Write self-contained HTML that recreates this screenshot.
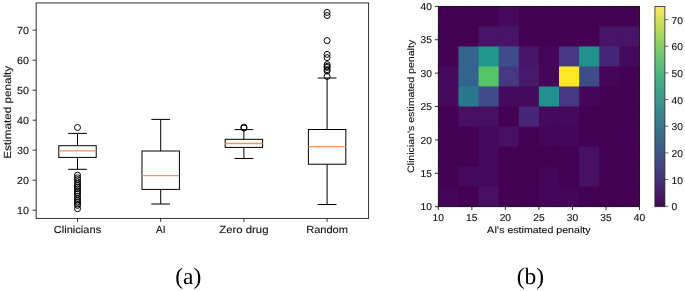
<!DOCTYPE html>
<html><head><meta charset="utf-8"><style>
html,body{margin:0;padding:0;background:#fff;width:685px;height:291px;overflow:hidden;}
svg{display:block;will-change:transform;text-rendering:geometricPrecision;}
</style></head><body>
<svg width="685" height="291" viewBox="0 0 685 291"><rect x="36.15" y="2.95" width="332.5" height="215.4" fill="none" stroke="#000" stroke-width="0.8"/>
<line x1="32.65" y1="210.2" x2="36.15" y2="210.2" stroke="#000" stroke-width="0.8"/>
<text x="29.0" y="213.64999999999998" font-size="10.3" text-anchor="end" font-family="Liberation Sans, sans-serif" fill="#111" stroke="#111" stroke-width="0.12" textLength="11.9" lengthAdjust="spacingAndGlyphs">10</text>
<line x1="32.65" y1="180.2" x2="36.15" y2="180.2" stroke="#000" stroke-width="0.8"/>
<text x="29.0" y="183.64999999999998" font-size="10.3" text-anchor="end" font-family="Liberation Sans, sans-serif" fill="#111" stroke="#111" stroke-width="0.12" textLength="11.9" lengthAdjust="spacingAndGlyphs">20</text>
<line x1="32.65" y1="150.2" x2="36.15" y2="150.2" stroke="#000" stroke-width="0.8"/>
<text x="29.0" y="153.64999999999998" font-size="10.3" text-anchor="end" font-family="Liberation Sans, sans-serif" fill="#111" stroke="#111" stroke-width="0.12" textLength="11.9" lengthAdjust="spacingAndGlyphs">30</text>
<line x1="32.65" y1="120.19999999999999" x2="36.15" y2="120.19999999999999" stroke="#000" stroke-width="0.8"/>
<text x="29.0" y="123.64999999999999" font-size="10.3" text-anchor="end" font-family="Liberation Sans, sans-serif" fill="#111" stroke="#111" stroke-width="0.12" textLength="11.9" lengthAdjust="spacingAndGlyphs">40</text>
<line x1="32.65" y1="90.19999999999999" x2="36.15" y2="90.19999999999999" stroke="#000" stroke-width="0.8"/>
<text x="29.0" y="93.64999999999999" font-size="10.3" text-anchor="end" font-family="Liberation Sans, sans-serif" fill="#111" stroke="#111" stroke-width="0.12" textLength="11.9" lengthAdjust="spacingAndGlyphs">50</text>
<line x1="32.65" y1="60.19999999999999" x2="36.15" y2="60.19999999999999" stroke="#000" stroke-width="0.8"/>
<text x="29.0" y="63.64999999999999" font-size="10.3" text-anchor="end" font-family="Liberation Sans, sans-serif" fill="#111" stroke="#111" stroke-width="0.12" textLength="11.9" lengthAdjust="spacingAndGlyphs">60</text>
<line x1="32.65" y1="30.19999999999999" x2="36.15" y2="30.19999999999999" stroke="#000" stroke-width="0.8"/>
<text x="29.0" y="33.64999999999999" font-size="10.3" text-anchor="end" font-family="Liberation Sans, sans-serif" fill="#111" stroke="#111" stroke-width="0.12" textLength="11.9" lengthAdjust="spacingAndGlyphs">70</text>
<line x1="77.5" y1="218.35" x2="77.5" y2="221.85" stroke="#000" stroke-width="0.8"/>
<text x="77.5" y="233.1" font-size="10.3" text-anchor="middle" font-family="Liberation Sans, sans-serif" fill="#111" stroke="#111" stroke-width="0.12" textLength="47.4" lengthAdjust="spacingAndGlyphs">Clinicians</text>
<line x1="160.7" y1="218.35" x2="160.7" y2="221.85" stroke="#000" stroke-width="0.8"/>
<text x="160.7" y="233.1" font-size="10.3" text-anchor="middle" font-family="Liberation Sans, sans-serif" fill="#111" stroke="#111" stroke-width="0.12" textLength="9.5" lengthAdjust="spacingAndGlyphs">AI</text>
<line x1="243.9" y1="218.35" x2="243.9" y2="221.85" stroke="#000" stroke-width="0.8"/>
<text x="243.9" y="233.1" font-size="10.3" text-anchor="middle" font-family="Liberation Sans, sans-serif" fill="#111" stroke="#111" stroke-width="0.12" textLength="49.2" lengthAdjust="spacingAndGlyphs">Zero drug</text>
<line x1="327.1" y1="218.35" x2="327.1" y2="221.85" stroke="#000" stroke-width="0.8"/>
<text x="327.1" y="233.1" font-size="10.3" text-anchor="middle" font-family="Liberation Sans, sans-serif" fill="#111" stroke="#111" stroke-width="0.12" textLength="41.8" lengthAdjust="spacingAndGlyphs">Random</text>
<text transform="translate(10.5,112.35) rotate(-90)" x="0" y="0" font-size="10.3" text-anchor="middle" font-family="Liberation Sans, sans-serif" fill="#111" stroke="#111" stroke-width="0.12" textLength="93" lengthAdjust="spacingAndGlyphs">Estimated penalty</text>
<line x1="77.5" y1="133.4" x2="77.5" y2="145.7" stroke="#000" stroke-width="1"/>
<line x1="77.5" y1="157.4" x2="77.5" y2="169.3" stroke="#000" stroke-width="1"/>
<line x1="68.14" y1="133.4" x2="86.86" y2="133.4" stroke="#000" stroke-width="1"/>
<line x1="68.14" y1="169.3" x2="86.86" y2="169.3" stroke="#000" stroke-width="1"/>
<rect x="58.78" y="145.7" width="37.440000000000005" height="11.700000000000017" fill="none" stroke="#000" stroke-width="1"/>
<line x1="58.78" y1="150.9" x2="96.22" y2="150.9" stroke="#f0964f" stroke-width="1.3"/>
<line x1="160.7" y1="119.4" x2="160.7" y2="151.0" stroke="#000" stroke-width="1"/>
<line x1="160.7" y1="189.4" x2="160.7" y2="204.0" stroke="#000" stroke-width="1"/>
<line x1="151.33999999999997" y1="119.4" x2="170.06" y2="119.4" stroke="#000" stroke-width="1"/>
<line x1="151.33999999999997" y1="204.0" x2="170.06" y2="204.0" stroke="#000" stroke-width="1"/>
<rect x="141.98" y="151.0" width="37.440000000000005" height="38.400000000000006" fill="none" stroke="#000" stroke-width="1"/>
<line x1="141.98" y1="175.6" x2="179.42" y2="175.6" stroke="#f0964f" stroke-width="1.3"/>
<line x1="243.9" y1="129.6" x2="243.9" y2="139.3" stroke="#000" stroke-width="1"/>
<line x1="243.9" y1="147.4" x2="243.9" y2="158.5" stroke="#000" stroke-width="1"/>
<line x1="234.54" y1="129.6" x2="253.26000000000002" y2="129.6" stroke="#000" stroke-width="1"/>
<line x1="234.54" y1="158.5" x2="253.26000000000002" y2="158.5" stroke="#000" stroke-width="1"/>
<rect x="225.18" y="139.3" width="37.440000000000005" height="8.099999999999994" fill="none" stroke="#000" stroke-width="1"/>
<line x1="225.18" y1="143.5" x2="262.62" y2="143.5" stroke="#f0964f" stroke-width="1.3"/>
<line x1="327.1" y1="78.0" x2="327.1" y2="129.5" stroke="#000" stroke-width="1"/>
<line x1="327.1" y1="164.2" x2="327.1" y2="204.5" stroke="#000" stroke-width="1"/>
<line x1="317.74" y1="78.0" x2="336.46000000000004" y2="78.0" stroke="#000" stroke-width="1"/>
<line x1="317.74" y1="204.5" x2="336.46000000000004" y2="204.5" stroke="#000" stroke-width="1"/>
<rect x="308.38" y="129.5" width="37.440000000000005" height="34.69999999999999" fill="none" stroke="#000" stroke-width="1"/>
<line x1="308.38" y1="146.6" x2="345.82000000000005" y2="146.6" stroke="#f0964f" stroke-width="1.3"/>
<circle cx="77.5" cy="127.5" r="3" fill="none" stroke="#000" stroke-width="1"/>
<circle cx="77.5" cy="175.2" r="3" fill="none" stroke="#000" stroke-width="1"/>
<circle cx="77.5" cy="177.8" r="3" fill="none" stroke="#000" stroke-width="1"/>
<circle cx="77.5" cy="179.6" r="3" fill="none" stroke="#000" stroke-width="1"/>
<circle cx="77.5" cy="181.8" r="3" fill="none" stroke="#000" stroke-width="1"/>
<circle cx="77.5" cy="183.8" r="3" fill="none" stroke="#000" stroke-width="1"/>
<circle cx="77.5" cy="185.6" r="3" fill="none" stroke="#000" stroke-width="1"/>
<circle cx="77.5" cy="187.2" r="3" fill="none" stroke="#000" stroke-width="1"/>
<circle cx="77.5" cy="188.8" r="3" fill="none" stroke="#000" stroke-width="1"/>
<circle cx="77.5" cy="190.8" r="3" fill="none" stroke="#000" stroke-width="1"/>
<circle cx="77.5" cy="192.6" r="3" fill="none" stroke="#000" stroke-width="1"/>
<circle cx="77.5" cy="194.2" r="3" fill="none" stroke="#000" stroke-width="1"/>
<circle cx="77.5" cy="196.4" r="3" fill="none" stroke="#000" stroke-width="1"/>
<circle cx="77.5" cy="198.4" r="3" fill="none" stroke="#000" stroke-width="1"/>
<circle cx="77.5" cy="200.2" r="3" fill="none" stroke="#000" stroke-width="1"/>
<circle cx="77.5" cy="202.0" r="3" fill="none" stroke="#000" stroke-width="1"/>
<circle cx="77.5" cy="204.0" r="3" fill="none" stroke="#000" stroke-width="1"/>
<circle cx="77.5" cy="205.4" r="3" fill="none" stroke="#000" stroke-width="1"/>
<circle cx="77.5" cy="208.7" r="3" fill="none" stroke="#000" stroke-width="1"/>
<circle cx="243.9" cy="127.2" r="3" fill="none" stroke="#000" stroke-width="1"/>
<circle cx="243.9" cy="128.0" r="3" fill="none" stroke="#000" stroke-width="1"/>
<circle cx="327.1" cy="12.4" r="3" fill="none" stroke="#000" stroke-width="1"/>
<circle cx="327.1" cy="15.5" r="3" fill="none" stroke="#000" stroke-width="1"/>
<circle cx="327.1" cy="40.6" r="3" fill="none" stroke="#000" stroke-width="1"/>
<circle cx="327.1" cy="54.4" r="3" fill="none" stroke="#000" stroke-width="1"/>
<circle cx="327.1" cy="57.6" r="3" fill="none" stroke="#000" stroke-width="1"/>
<circle cx="327.1" cy="64.6" r="3" fill="none" stroke="#000" stroke-width="1"/>
<circle cx="327.1" cy="66.4" r="3" fill="none" stroke="#000" stroke-width="1"/>
<circle cx="327.1" cy="67.4" r="3" fill="none" stroke="#000" stroke-width="1"/>
<circle cx="327.1" cy="69.6" r="3" fill="none" stroke="#000" stroke-width="1"/>
<circle cx="327.1" cy="71.0" r="3" fill="none" stroke="#000" stroke-width="1"/>
<circle cx="327.1" cy="76.4" r="3" fill="none" stroke="#000" stroke-width="1"/>
<rect x="438.30" y="6.35" width="21.12" height="21.04" fill="#440154"/>
<rect x="458.42" y="6.35" width="21.12" height="21.04" fill="#440154"/>
<rect x="478.54" y="6.35" width="21.12" height="21.04" fill="#440154"/>
<rect x="498.66" y="6.35" width="21.12" height="21.04" fill="#460a5d"/>
<rect x="518.78" y="6.35" width="21.12" height="21.04" fill="#440154"/>
<rect x="538.90" y="6.35" width="21.12" height="21.04" fill="#440154"/>
<rect x="559.02" y="6.35" width="21.12" height="21.04" fill="#440154"/>
<rect x="579.14" y="6.35" width="21.12" height="21.04" fill="#440154"/>
<rect x="599.26" y="6.35" width="21.12" height="21.04" fill="#440154"/>
<rect x="619.38" y="6.35" width="20.12" height="21.04" fill="#440154"/>
<rect x="438.30" y="26.38" width="21.12" height="21.04" fill="#440154"/>
<rect x="458.42" y="26.38" width="21.12" height="21.04" fill="#440154"/>
<rect x="478.54" y="26.38" width="21.12" height="21.04" fill="#481467"/>
<rect x="498.66" y="26.38" width="21.12" height="21.04" fill="#481467"/>
<rect x="518.78" y="26.38" width="21.12" height="21.04" fill="#440154"/>
<rect x="538.90" y="26.38" width="21.12" height="21.04" fill="#440154"/>
<rect x="559.02" y="26.38" width="21.12" height="21.04" fill="#440154"/>
<rect x="579.14" y="26.38" width="21.12" height="21.04" fill="#440154"/>
<rect x="599.26" y="26.38" width="21.12" height="21.04" fill="#481467"/>
<rect x="619.38" y="26.38" width="20.12" height="21.04" fill="#481467"/>
<rect x="438.30" y="46.42" width="21.12" height="21.04" fill="#440154"/>
<rect x="458.42" y="46.42" width="21.12" height="21.04" fill="#32648e"/>
<rect x="478.54" y="46.42" width="21.12" height="21.04" fill="#1f988b"/>
<rect x="498.66" y="46.42" width="21.12" height="21.04" fill="#3e4c8a"/>
<rect x="518.78" y="46.42" width="21.12" height="21.04" fill="#481467"/>
<rect x="538.90" y="46.42" width="21.12" height="21.04" fill="#450559"/>
<rect x="559.02" y="46.42" width="21.12" height="21.04" fill="#453781"/>
<rect x="579.14" y="46.42" width="21.12" height="21.04" fill="#20928c"/>
<rect x="599.26" y="46.42" width="21.12" height="21.04" fill="#482677"/>
<rect x="619.38" y="46.42" width="20.12" height="21.04" fill="#460a5d"/>
<rect x="438.30" y="66.45" width="21.12" height="21.04" fill="#460a5d"/>
<rect x="458.42" y="66.45" width="21.12" height="21.04" fill="#32648e"/>
<rect x="478.54" y="66.45" width="21.12" height="21.04" fill="#54c568"/>
<rect x="498.66" y="66.45" width="21.12" height="21.04" fill="#453781"/>
<rect x="518.78" y="66.45" width="21.12" height="21.04" fill="#481a6c"/>
<rect x="538.90" y="66.45" width="21.12" height="21.04" fill="#450559"/>
<rect x="559.02" y="66.45" width="21.12" height="21.04" fill="#fde725"/>
<rect x="579.14" y="66.45" width="21.12" height="21.04" fill="#3e4c8a"/>
<rect x="599.26" y="66.45" width="21.12" height="21.04" fill="#450559"/>
<rect x="619.38" y="66.45" width="20.12" height="21.04" fill="#440154"/>
<rect x="438.30" y="86.49" width="21.12" height="21.04" fill="#460a5d"/>
<rect x="458.42" y="86.49" width="21.12" height="21.04" fill="#2a788e"/>
<rect x="478.54" y="86.49" width="21.12" height="21.04" fill="#3e4c8a"/>
<rect x="498.66" y="86.49" width="21.12" height="21.04" fill="#460a5d"/>
<rect x="518.78" y="86.49" width="21.12" height="21.04" fill="#460a5d"/>
<rect x="538.90" y="86.49" width="21.12" height="21.04" fill="#218f8d"/>
<rect x="559.02" y="86.49" width="21.12" height="21.04" fill="#453781"/>
<rect x="579.14" y="86.49" width="21.12" height="21.04" fill="#450559"/>
<rect x="599.26" y="86.49" width="21.12" height="21.04" fill="#440154"/>
<rect x="619.38" y="86.49" width="20.12" height="21.04" fill="#440154"/>
<rect x="438.30" y="106.52" width="21.12" height="21.04" fill="#440154"/>
<rect x="458.42" y="106.52" width="21.12" height="21.04" fill="#471063"/>
<rect x="478.54" y="106.52" width="21.12" height="21.04" fill="#471063"/>
<rect x="498.66" y="106.52" width="21.12" height="21.04" fill="#440154"/>
<rect x="518.78" y="106.52" width="21.12" height="21.04" fill="#482677"/>
<rect x="538.90" y="106.52" width="21.12" height="21.04" fill="#460a5d"/>
<rect x="559.02" y="106.52" width="21.12" height="21.04" fill="#460a5d"/>
<rect x="579.14" y="106.52" width="21.12" height="21.04" fill="#440154"/>
<rect x="599.26" y="106.52" width="21.12" height="21.04" fill="#440154"/>
<rect x="619.38" y="106.52" width="20.12" height="21.04" fill="#440154"/>
<rect x="438.30" y="126.56" width="21.12" height="21.04" fill="#440154"/>
<rect x="458.42" y="126.56" width="21.12" height="21.04" fill="#440154"/>
<rect x="478.54" y="126.56" width="21.12" height="21.04" fill="#460a5d"/>
<rect x="498.66" y="126.56" width="21.12" height="21.04" fill="#471063"/>
<rect x="518.78" y="126.56" width="21.12" height="21.04" fill="#440154"/>
<rect x="538.90" y="126.56" width="21.12" height="21.04" fill="#450559"/>
<rect x="559.02" y="126.56" width="21.12" height="21.04" fill="#450559"/>
<rect x="579.14" y="126.56" width="21.12" height="21.04" fill="#440154"/>
<rect x="599.26" y="126.56" width="21.12" height="21.04" fill="#440154"/>
<rect x="619.38" y="126.56" width="20.12" height="21.04" fill="#440154"/>
<rect x="438.30" y="146.59" width="21.12" height="21.04" fill="#440154"/>
<rect x="458.42" y="146.59" width="21.12" height="21.04" fill="#440154"/>
<rect x="478.54" y="146.59" width="21.12" height="21.04" fill="#460a5d"/>
<rect x="498.66" y="146.59" width="21.12" height="21.04" fill="#440154"/>
<rect x="518.78" y="146.59" width="21.12" height="21.04" fill="#440154"/>
<rect x="538.90" y="146.59" width="21.12" height="21.04" fill="#440154"/>
<rect x="559.02" y="146.59" width="21.12" height="21.04" fill="#440154"/>
<rect x="579.14" y="146.59" width="21.12" height="21.04" fill="#471063"/>
<rect x="599.26" y="146.59" width="21.12" height="21.04" fill="#440154"/>
<rect x="619.38" y="146.59" width="20.12" height="21.04" fill="#440154"/>
<rect x="438.30" y="166.63" width="21.12" height="21.04" fill="#440154"/>
<rect x="458.42" y="166.63" width="21.12" height="21.04" fill="#460a5d"/>
<rect x="478.54" y="166.63" width="21.12" height="21.04" fill="#460a5d"/>
<rect x="498.66" y="166.63" width="21.12" height="21.04" fill="#440154"/>
<rect x="518.78" y="166.63" width="21.12" height="21.04" fill="#440154"/>
<rect x="538.90" y="166.63" width="21.12" height="21.04" fill="#450559"/>
<rect x="559.02" y="166.63" width="21.12" height="21.04" fill="#440154"/>
<rect x="579.14" y="166.63" width="21.12" height="21.04" fill="#471063"/>
<rect x="599.26" y="166.63" width="21.12" height="21.04" fill="#440154"/>
<rect x="619.38" y="166.63" width="20.12" height="21.04" fill="#440154"/>
<rect x="438.30" y="186.66" width="21.12" height="20.04" fill="#450559"/>
<rect x="458.42" y="186.66" width="21.12" height="20.04" fill="#440154"/>
<rect x="478.54" y="186.66" width="21.12" height="20.04" fill="#471063"/>
<rect x="498.66" y="186.66" width="21.12" height="20.04" fill="#440154"/>
<rect x="518.78" y="186.66" width="21.12" height="20.04" fill="#440154"/>
<rect x="538.90" y="186.66" width="21.12" height="20.04" fill="#450559"/>
<rect x="559.02" y="186.66" width="21.12" height="20.04" fill="#450559"/>
<rect x="579.14" y="186.66" width="21.12" height="20.04" fill="#440154"/>
<rect x="599.26" y="186.66" width="21.12" height="20.04" fill="#440154"/>
<rect x="619.38" y="186.66" width="20.12" height="20.04" fill="#440154"/>
<rect x="438.3" y="6.35" width="201.2" height="200.35" fill="none" stroke="#000" stroke-width="0.8"/>
<line x1="438.3" y1="206.7" x2="438.3" y2="210.1" stroke="#000" stroke-width="0.8"/>
<text x="438.3" y="220.6" font-size="10" text-anchor="middle" font-family="Liberation Sans, sans-serif" fill="#111" stroke="#111" stroke-width="0.12" textLength="11.4" lengthAdjust="spacingAndGlyphs">10</text>
<line x1="434.90000000000003" y1="206.7" x2="438.3" y2="206.7" stroke="#000" stroke-width="0.8"/>
<text x="431.9" y="210.29999999999998" font-size="10" text-anchor="end" font-family="Liberation Sans, sans-serif" fill="#111" stroke="#111" stroke-width="0.12" textLength="11.4" lengthAdjust="spacingAndGlyphs">10</text>
<line x1="471.83333333333337" y1="206.7" x2="471.83333333333337" y2="210.1" stroke="#000" stroke-width="0.8"/>
<text x="471.83333333333337" y="220.6" font-size="10" text-anchor="middle" font-family="Liberation Sans, sans-serif" fill="#111" stroke="#111" stroke-width="0.12" textLength="11.4" lengthAdjust="spacingAndGlyphs">15</text>
<line x1="434.90000000000003" y1="173.30833333333334" x2="438.3" y2="173.30833333333334" stroke="#000" stroke-width="0.8"/>
<text x="431.9" y="176.90833333333333" font-size="10" text-anchor="end" font-family="Liberation Sans, sans-serif" fill="#111" stroke="#111" stroke-width="0.12" textLength="11.4" lengthAdjust="spacingAndGlyphs">15</text>
<line x1="505.3666666666667" y1="206.7" x2="505.3666666666667" y2="210.1" stroke="#000" stroke-width="0.8"/>
<text x="505.3666666666667" y="220.6" font-size="10" text-anchor="middle" font-family="Liberation Sans, sans-serif" fill="#111" stroke="#111" stroke-width="0.12" textLength="11.4" lengthAdjust="spacingAndGlyphs">20</text>
<line x1="434.90000000000003" y1="139.91666666666666" x2="438.3" y2="139.91666666666666" stroke="#000" stroke-width="0.8"/>
<text x="431.9" y="143.51666666666665" font-size="10" text-anchor="end" font-family="Liberation Sans, sans-serif" fill="#111" stroke="#111" stroke-width="0.12" textLength="11.4" lengthAdjust="spacingAndGlyphs">20</text>
<line x1="538.9" y1="206.7" x2="538.9" y2="210.1" stroke="#000" stroke-width="0.8"/>
<text x="538.9" y="220.6" font-size="10" text-anchor="middle" font-family="Liberation Sans, sans-serif" fill="#111" stroke="#111" stroke-width="0.12" textLength="11.4" lengthAdjust="spacingAndGlyphs">25</text>
<line x1="434.90000000000003" y1="106.52499999999999" x2="438.3" y2="106.52499999999999" stroke="#000" stroke-width="0.8"/>
<text x="431.9" y="110.12499999999999" font-size="10" text-anchor="end" font-family="Liberation Sans, sans-serif" fill="#111" stroke="#111" stroke-width="0.12" textLength="11.4" lengthAdjust="spacingAndGlyphs">25</text>
<line x1="572.4333333333334" y1="206.7" x2="572.4333333333334" y2="210.1" stroke="#000" stroke-width="0.8"/>
<text x="572.4333333333334" y="220.6" font-size="10" text-anchor="middle" font-family="Liberation Sans, sans-serif" fill="#111" stroke="#111" stroke-width="0.12" textLength="11.4" lengthAdjust="spacingAndGlyphs">30</text>
<line x1="434.90000000000003" y1="73.13333333333333" x2="438.3" y2="73.13333333333333" stroke="#000" stroke-width="0.8"/>
<text x="431.9" y="76.73333333333332" font-size="10" text-anchor="end" font-family="Liberation Sans, sans-serif" fill="#111" stroke="#111" stroke-width="0.12" textLength="11.4" lengthAdjust="spacingAndGlyphs">30</text>
<line x1="605.9666666666667" y1="206.7" x2="605.9666666666667" y2="210.1" stroke="#000" stroke-width="0.8"/>
<text x="605.9666666666667" y="220.6" font-size="10" text-anchor="middle" font-family="Liberation Sans, sans-serif" fill="#111" stroke="#111" stroke-width="0.12" textLength="11.4" lengthAdjust="spacingAndGlyphs">35</text>
<line x1="434.90000000000003" y1="39.741666666666646" x2="438.3" y2="39.741666666666646" stroke="#000" stroke-width="0.8"/>
<text x="431.9" y="43.34166666666665" font-size="10" text-anchor="end" font-family="Liberation Sans, sans-serif" fill="#111" stroke="#111" stroke-width="0.12" textLength="11.4" lengthAdjust="spacingAndGlyphs">35</text>
<line x1="639.5" y1="206.7" x2="639.5" y2="210.1" stroke="#000" stroke-width="0.8"/>
<text x="639.5" y="220.6" font-size="10" text-anchor="middle" font-family="Liberation Sans, sans-serif" fill="#111" stroke="#111" stroke-width="0.12" textLength="11.4" lengthAdjust="spacingAndGlyphs">40</text>
<line x1="434.90000000000003" y1="6.349999999999994" x2="438.3" y2="6.349999999999994" stroke="#000" stroke-width="0.8"/>
<text x="431.9" y="9.949999999999994" font-size="10" text-anchor="end" font-family="Liberation Sans, sans-serif" fill="#111" stroke="#111" stroke-width="0.12" textLength="11.4" lengthAdjust="spacingAndGlyphs">40</text>
<text x="538.8" y="233" font-size="9.3" text-anchor="middle" font-family="Liberation Sans, sans-serif" fill="#111" stroke="#111" stroke-width="0.12" textLength="103.4" lengthAdjust="spacingAndGlyphs">AI's estimated penalty</text>
<text transform="translate(414.4,106.45) rotate(-90)" font-size="9.3" text-anchor="middle" font-family="Liberation Sans, sans-serif" fill="#111" stroke="#111" stroke-width="0.12" textLength="133.3" lengthAdjust="spacingAndGlyphs">Clinician's estimated penalty</text>
<defs><filter id="ds" x="0" y="0" width="1" height="1"><feColorMatrix type="saturate" values="0.86"/></filter><linearGradient id="vg" x1="0" y1="1" x2="0" y2="0"><stop offset="0.000" stop-color="#440154"/><stop offset="0.033" stop-color="#470d60"/><stop offset="0.067" stop-color="#481a6c"/><stop offset="0.100" stop-color="#482475"/><stop offset="0.133" stop-color="#472f7d"/><stop offset="0.167" stop-color="#443983"/><stop offset="0.200" stop-color="#414487"/><stop offset="0.233" stop-color="#3d4d8a"/><stop offset="0.267" stop-color="#39568c"/><stop offset="0.300" stop-color="#355f8d"/><stop offset="0.333" stop-color="#31688e"/><stop offset="0.367" stop-color="#2d708e"/><stop offset="0.400" stop-color="#2a788e"/><stop offset="0.433" stop-color="#27808e"/><stop offset="0.467" stop-color="#23888e"/><stop offset="0.500" stop-color="#21918c"/><stop offset="0.533" stop-color="#1f988b"/><stop offset="0.567" stop-color="#1fa188"/><stop offset="0.600" stop-color="#22a884"/><stop offset="0.633" stop-color="#2ab07f"/><stop offset="0.667" stop-color="#35b779"/><stop offset="0.700" stop-color="#44bf70"/><stop offset="0.733" stop-color="#54c568"/><stop offset="0.767" stop-color="#67cc5c"/><stop offset="0.800" stop-color="#7ad151"/><stop offset="0.833" stop-color="#90d743"/><stop offset="0.867" stop-color="#a5db36"/><stop offset="0.900" stop-color="#bddf26"/><stop offset="0.933" stop-color="#d2e21b"/><stop offset="0.967" stop-color="#eae51a"/><stop offset="1.000" stop-color="#fde725"/></linearGradient></defs>
<rect x="654.9" y="6.4" width="10.0" height="200.29999999999998" fill="url(#vg)" filter="url(#ds)"/>
<rect x="654.9" y="6.4" width="10.0" height="200.29999999999998" fill="none" stroke="#222" stroke-width="0.8"/>
<line x1="664.9" y1="206.2" x2="668.3" y2="206.2" stroke="#444" stroke-width="0.8"/>
<text x="671.6" y="210.39999999999998" font-size="10" text-anchor="start" font-family="Liberation Sans, sans-serif" fill="#111" stroke="#111" stroke-width="0.12" textLength="5.7" lengthAdjust="spacingAndGlyphs">0</text>
<line x1="664.9" y1="179.54285714285714" x2="668.3" y2="179.54285714285714" stroke="#444" stroke-width="0.8"/>
<text x="671.6" y="183.74285714285713" font-size="10" text-anchor="start" font-family="Liberation Sans, sans-serif" fill="#111" stroke="#111" stroke-width="0.12" textLength="11.4" lengthAdjust="spacingAndGlyphs">10</text>
<line x1="664.9" y1="152.88571428571427" x2="668.3" y2="152.88571428571427" stroke="#444" stroke-width="0.8"/>
<text x="671.6" y="157.08571428571426" font-size="10" text-anchor="start" font-family="Liberation Sans, sans-serif" fill="#111" stroke="#111" stroke-width="0.12" textLength="11.4" lengthAdjust="spacingAndGlyphs">20</text>
<line x1="664.9" y1="126.22857142857141" x2="668.3" y2="126.22857142857141" stroke="#444" stroke-width="0.8"/>
<text x="671.6" y="130.42857142857142" font-size="10" text-anchor="start" font-family="Liberation Sans, sans-serif" fill="#111" stroke="#111" stroke-width="0.12" textLength="11.4" lengthAdjust="spacingAndGlyphs">30</text>
<line x1="664.9" y1="99.57142857142856" x2="668.3" y2="99.57142857142856" stroke="#444" stroke-width="0.8"/>
<text x="671.6" y="103.77142857142856" font-size="10" text-anchor="start" font-family="Liberation Sans, sans-serif" fill="#111" stroke="#111" stroke-width="0.12" textLength="11.4" lengthAdjust="spacingAndGlyphs">40</text>
<line x1="664.9" y1="72.91428571428571" x2="668.3" y2="72.91428571428571" stroke="#444" stroke-width="0.8"/>
<text x="671.6" y="77.11428571428571" font-size="10" text-anchor="start" font-family="Liberation Sans, sans-serif" fill="#111" stroke="#111" stroke-width="0.12" textLength="11.4" lengthAdjust="spacingAndGlyphs">50</text>
<line x1="664.9" y1="46.25714285714284" x2="668.3" y2="46.25714285714284" stroke="#444" stroke-width="0.8"/>
<text x="671.6" y="50.45714285714284" font-size="10" text-anchor="start" font-family="Liberation Sans, sans-serif" fill="#111" stroke="#111" stroke-width="0.12" textLength="11.4" lengthAdjust="spacingAndGlyphs">60</text>
<line x1="664.9" y1="19.599999999999994" x2="668.3" y2="19.599999999999994" stroke="#444" stroke-width="0.8"/>
<text x="671.6" y="23.799999999999994" font-size="10" text-anchor="start" font-family="Liberation Sans, sans-serif" fill="#111" stroke="#111" stroke-width="0.12" textLength="11.4" lengthAdjust="spacingAndGlyphs">70</text>
<text x="188.3" y="284" font-size="23.5" text-anchor="middle" font-family="Liberation Serif, serif">(a)</text>
<text x="530.4" y="284" font-size="23.5" text-anchor="middle" font-family="Liberation Serif, serif">(b)</text></svg>
</body></html>
